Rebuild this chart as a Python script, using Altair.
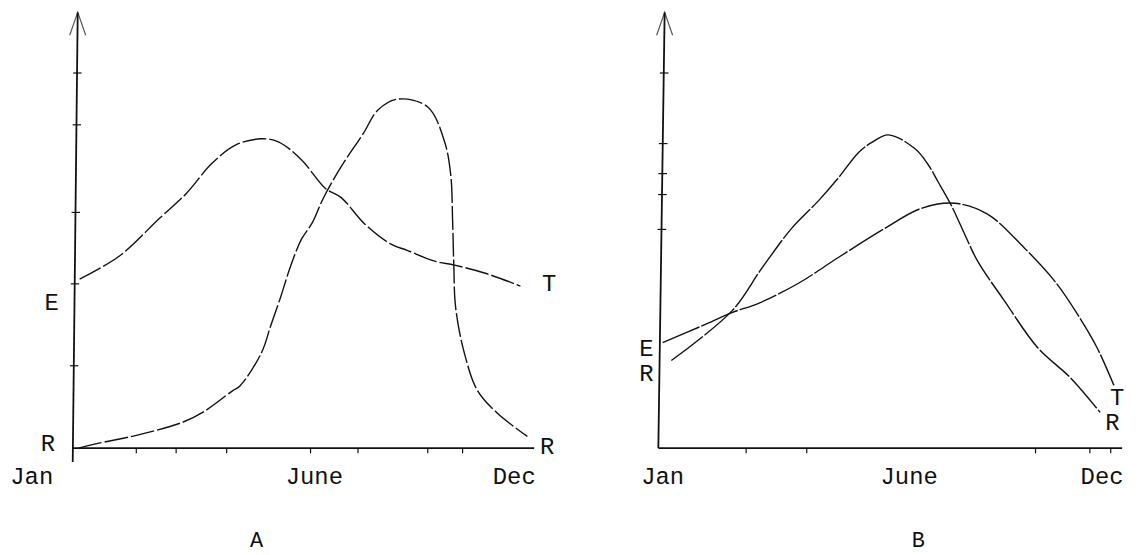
import altair as alt
import pandas as pd

# ---------------- Panel A (months from Jan = 0, relative value 0-100) -------------
a_t_month = [0.13, 1.17, 2.21, 2.91, 3.58, 4.21, 4.88, 5.32, 5.92, 6.55, 6.96, 7.58, 8.26, 8.68, 9.40, 9.92, 10.70, 11.64]
a_t_value = [38.8, 44.1, 52.7, 58.4, 65.3, 69.6, 71.0, 70.3, 66.2, 59.6, 57.5, 51.4, 46.8, 45.4, 42.9, 42.0, 40.2, 37.2]

a_r_month = [0.10, 0.52, 1.74, 2.81, 3.38, 4.13, 4.31, 4.88, 5.12, 5.38, 5.64, 5.92, 6.21, 6.49, 6.96, 7.53, 7.92, 8.44,
             9.22, 9.66, 9.82, 9.87, 9.90, 9.95, 10.18, 10.52, 11.04, 11.82]
a_r_value = [0.0, 0.9, 3.2, 5.9, 8.4, 13.2, 14.2, 21.9, 28.1, 34.7, 41.8, 47.9, 51.8, 57.3, 64.6, 72.1, 77.6, 80.1,
             78.3, 70.3, 62.8, 52.1, 42.2, 32.2, 21.7, 13.2, 8.0, 2.7]

# ---------------- Panel B ----------------
b_t_month = [0.08, 1.09, 1.84, 2.53, 3.54, 4.55, 5.68, 6.64, 7.50, 8.33, 9.27, 10.03, 10.61, 11.11, 11.54]
b_t_value = [24.2, 28.1, 31.1, 33.3, 37.9, 43.8, 50.2, 55.0, 56.2, 53.7, 45.9, 38.4, 30.8, 23.1, 14.4]

b_r_month = [0.30, 1.84, 2.60, 3.36, 4.04, 4.55, 5.05, 5.38, 5.81, 6.49, 6.82, 7.07, 7.40, 7.75, 8.08, 8.76, 9.60, 10.43, 11.19]
b_r_value = [20.1, 31.5, 41.3, 50.5, 56.8, 62.1, 67.8, 70.1, 71.9, 68.7, 65.1, 61.2, 55.9, 49.1, 42.9, 33.8, 23.1, 16.2, 8.2]

# tick marks drawn on the hand-made axes
a_ytick_values = [86.1, 74.2, 54.1, 37.7, 18.9]
a_xtick_months = [1.61, 2.65, 3.97, 6.16, 7.40, 9.22, 10.13]
b_ytick_values = [86.1, 69.9, 63.0, 58.2, 50.2]
b_xtick_months = [2.20, 3.74, 9.55, 10.93, 11.46]

# text labels
month_labels = ["Jan", "June", "Dec"]
a_month_label_pos = [-1.12, 6.26, 11.48]
b_month_label_pos = [0.08, 6.34, 11.24]

a_series_labels = ["E", "R", "T", "R"]
a_series_label_month = [-0.60, -0.70, 12.39, 12.34]
a_series_label_value = [33.3, 0.9, 37.7, 0.2]
b_series_labels = ["E", "R", "T", "R"]
b_series_label_month = [-0.33, -0.33, 11.62, 11.50]
b_series_label_value = [22.8, 17.1, 11.4, 5.7]

panel_names = ["A", "B"]
panel_name_month = [4.75, 6.57]
panel_name_value = [-21.0, -21.0]

FONT = "Liberation Mono"
INK = "#111111"


def curves_df(t_m, t_v, r_m, r_v):
    rows = []
    for i, (m, v) in enumerate(zip(t_m, t_v)):
        rows.append({"month": m, "value": v, "series": "T", "idx": i})
    for i, (m, v) in enumerate(zip(r_m, r_v)):
        rows.append({"month": m, "value": v, "series": "R", "idx": i})
    return pd.DataFrame(rows)


def panel(curves, xticks, yticks, axis_x_top, axis_x_bottom, axis_y_bottom, axis_x_end,
          lab_text, lab_m, lab_v, mpos, pname, pm, pv, width, dash):
    xs = alt.Scale(domain=[0, 12], nice=False, zero=False)
    ys = alt.Scale(domain=[0, 100], nice=False, zero=False)

    def X(f):
        return alt.X(f, type="quantitative", scale=xs, axis=None)

    def Y(f):
        return alt.Y(f, type="quantitative", scale=ys, axis=None)

    axes_df = pd.DataFrame([
        {"x": axis_x_top, "y": 100.0, "x2": axis_x_bottom, "y2": axis_y_bottom},
        {"x": axis_x_bottom, "y": 0.0, "x2": axis_x_end, "y2": 0.0},
    ])
    axes = alt.Chart(axes_df).mark_rule(color=INK, strokeWidth=1.8).encode(
        x=X("x"), y=Y("y"), x2="x2", y2="y2")

    arrow_df = pd.DataFrame([{"x": axis_x_top, "y": 97.4}])
    arrow = alt.Chart(arrow_df).mark_point(
        shape="M-0.7,1L0,-1L0.7,1", filled=False, size=529, stroke=INK, strokeWidth=1.2
    ).encode(x=X("x"), y=Y("y"))

    tick_rows = [{"x": m, "y": 0.0, "x2": m, "y2": -1.2} for m in xticks]
    tick_rows += [{"x": axis_x_bottom + (axis_x_top - axis_x_bottom) * v / 100 - 0.1, "y": v,
                   "x2": axis_x_bottom + (axis_x_top - axis_x_bottom) * v / 100 + 0.12, "y2": v} for v in yticks]
    ticks = alt.Chart(pd.DataFrame(tick_rows)).mark_rule(color=INK, strokeWidth=1.2).encode(
        x=X("x"), y=Y("y"), x2="x2", y2="y2")

    lines = alt.Chart(curves).mark_line(
        interpolate="catmull-rom", color=INK, strokeWidth=1.4, strokeDash=dash
    ).encode(x=X("month"), y=Y("value"), detail="series:N", order="idx:Q")

    text_rows = [{"t": t, "m": m, "v": -6.6} for t, m in zip(month_labels, mpos)]
    text_rows += [{"t": t, "m": m, "v": v} for t, m, v in zip(lab_text, lab_m, lab_v)]
    texts = alt.Chart(pd.DataFrame(text_rows)).mark_text(
        font=FONT, fontSize=24, color=INK, align="center", baseline="middle"
    ).encode(x=X("m"), y=Y("v"), text="t:N")

    name = alt.Chart(pd.DataFrame([{"t": pname, "m": pm, "v": pv}])).mark_text(
        font=FONT, fontSize=22, color=INK, align="center", baseline="middle"
    ).encode(x=X("m"), y=Y("v"), text="t:N")

    return alt.layer(axes, arrow, ticks, lines, texts, name).properties(width=width, height=438)


chart_a = panel(curves_df(a_t_month, a_t_value, a_r_month, a_r_value),
                a_xtick_months, a_ytick_values, 0.08, -0.05, -3.2, 12.0,
                a_series_labels, a_series_label_month, a_series_label_value,
                a_month_label_pos, panel_names[0], panel_name_month[0], panel_name_value[0], 462,
                [24, 3])
chart_b = panel(curves_df(b_t_month, b_t_value, b_r_month, b_r_value),
                b_xtick_months, b_ytick_values, 0.13, -0.03, 0.0, 11.75,
                b_series_labels, b_series_label_month, b_series_label_value,
                b_month_label_pos, panel_names[1], panel_name_month[1], panel_name_value[1], 475,
                [40, 2])

chart = alt.hconcat(chart_a, chart_b, spacing=126, bounds="flush").properties(
    padding={"left": 2, "top": 0, "right": 0, "bottom": 3},
    background="white",
).configure_view(strokeWidth=0)

chart.save("out.html", embed_options={"renderer": "svg", "actions": False})
